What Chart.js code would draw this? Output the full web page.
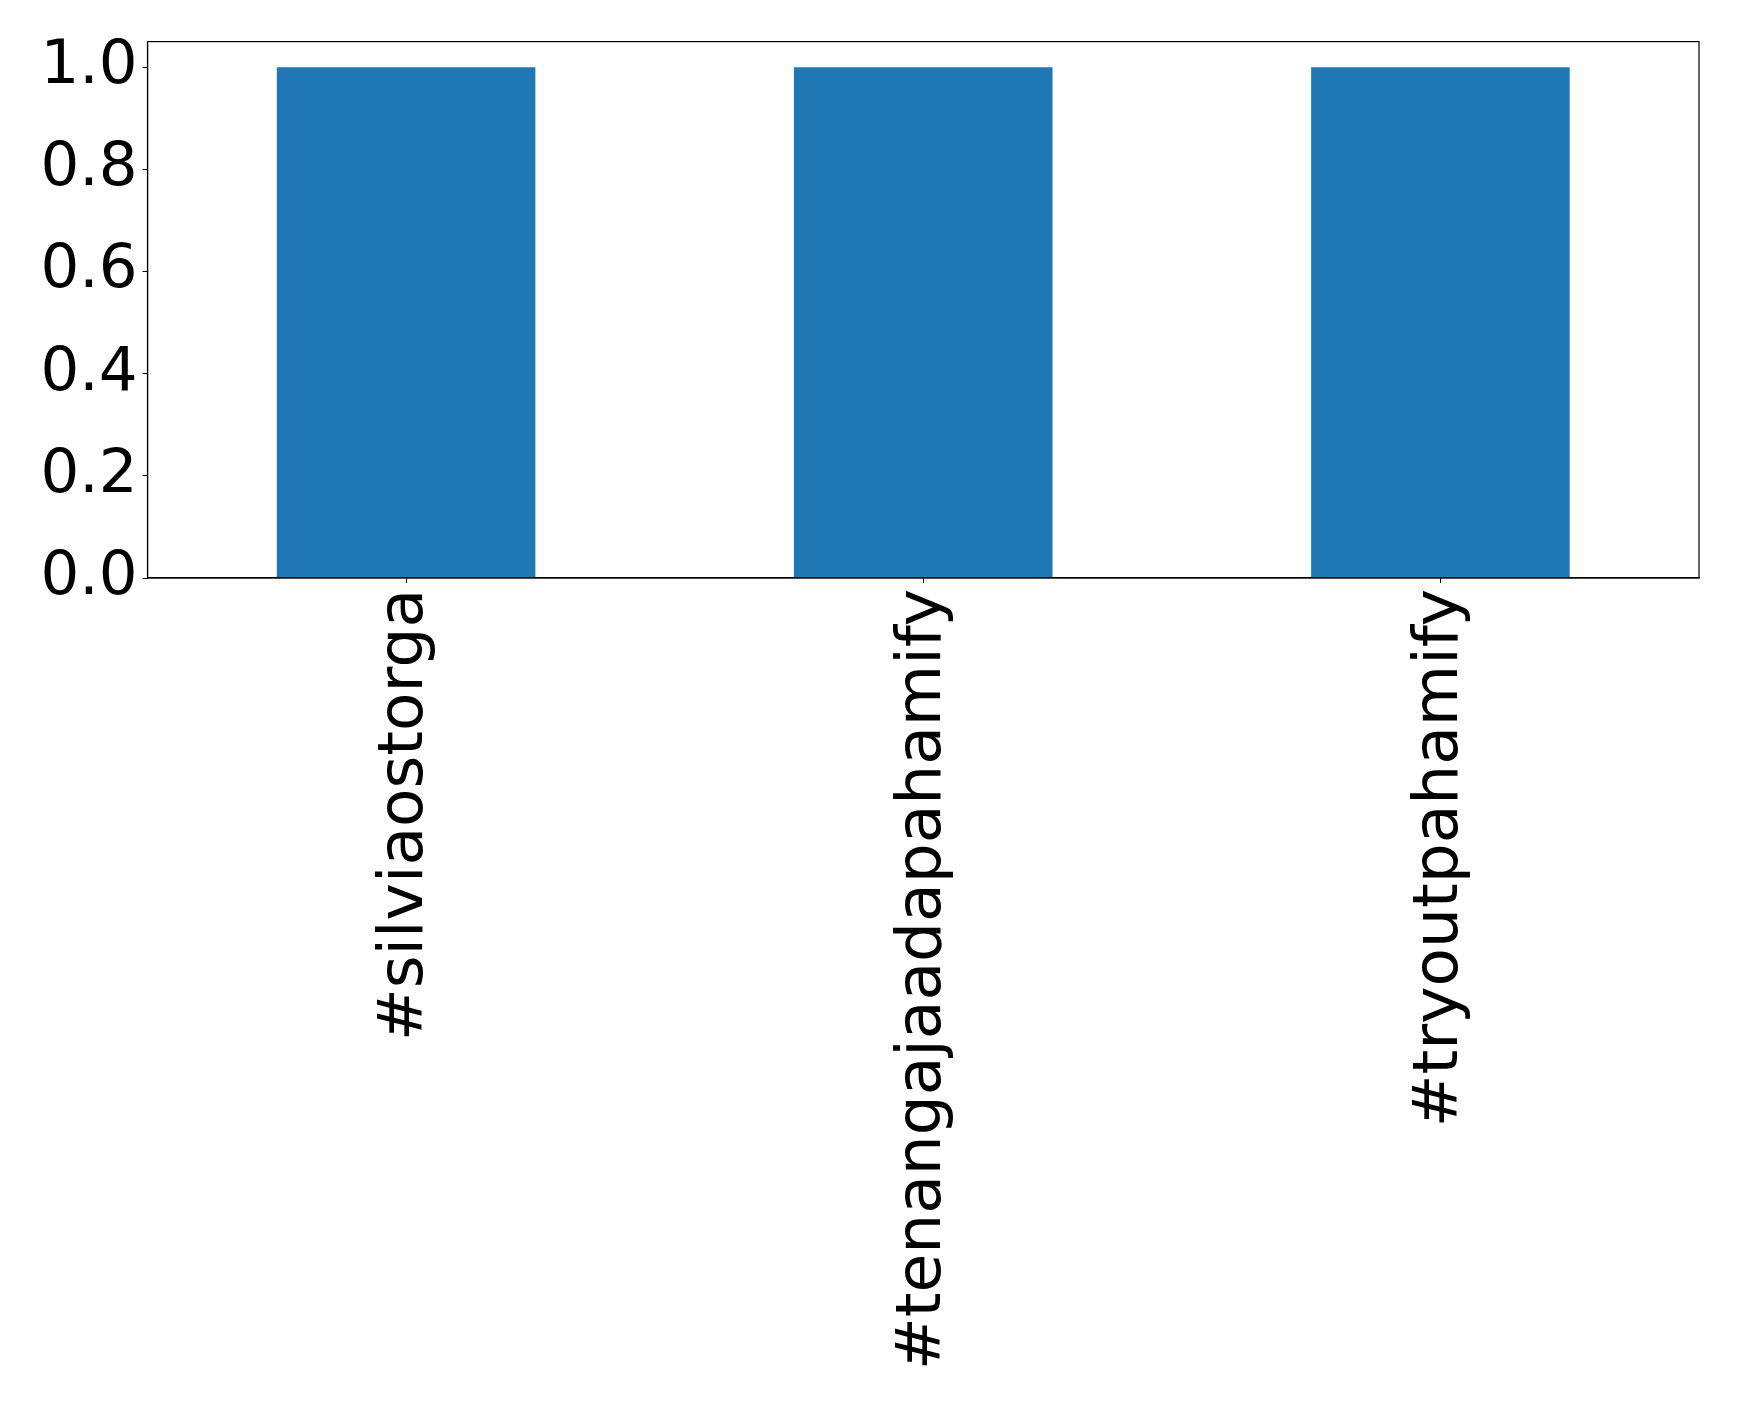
<!DOCTYPE html>
<html>
<head>
<meta charset="utf-8">
<script src="https://cdn.jsdelivr.net/npm/chart.js@4.4.1/dist/chart.umd.min.js"></script>
<style>
  html, body { margin: 0; padding: 0; background: #fff; }
  #wrap { width: 1739px; height: 1402px; }
</style>
</head>
<body>
<div id="wrap"><canvas id="barChart" width="1739" height="1402"></canvas></div>
<script>
const categories = ['#silviaostorga', '#tenangajaadapahamify', '#tryoutpahamify'];
const counts = [1, 1, 1];
const yTickValues = [0, 0.2, 0.4, 0.6, 0.8, 1.0];

// box around the plot area, like matplotlib spines
const frame = {
  id: 'frame',
  afterDatasetsDraw(chart) {
    const { ctx, chartArea: a } = chart;
    ctx.save();
    ctx.strokeStyle = '#000';
    ctx.lineWidth = 1.2;
    ctx.strokeRect(a.left, a.top, a.right - a.left, a.bottom - a.top);
    ctx.restore();
  }
};

const ctx = document.getElementById('barChart').getContext('2d');
new Chart(ctx, {
  type: 'bar',
  data: {
    labels: categories,
    datasets: [{
      data: counts,
      backgroundColor: '#1f77b4',
      categoryPercentage: 1.0,
      barPercentage: 0.5
    }]
  },
  options: {
    responsive: false,
    animation: false,
    layout: { padding: { top: 29, right: 40, left: 0, bottom: 0 } },
    plugins: { legend: { display: false }, tooltip: { enabled: false } },
    scales: {
      x: {
        grid: { offset: false, drawOnChartArea: false, drawTicks: true, tickLength: 5, color: '#000' },
        border: { color: '#000', width: 1.2 },
        ticks: {
          color: '#000',
          font: { family: 'DejaVu Sans', size: 63 },
          minRotation: 90,
          maxRotation: 90,
          padding: 6,
          autoSkip: false
        },
        afterFit(scale) { scale.height = 824; }
      },
      y: {
        min: 0,
        max: 1.05,
        afterBuildTicks(scale) { scale.ticks = yTickValues.map(v => ({ value: v })); },
        grid: { drawOnChartArea: false, drawTicks: true, tickLength: 5, color: '#000' },
        border: { color: '#000', width: 1.2 },
        ticks: {
          color: '#000',
          font: { family: 'DejaVu Sans', size: 61 },
          padding: 5,
          callback: v => v.toFixed(1)
        },
        afterFit(scale) { scale.width = 147.5; }
      }
    }
  },
  plugins: [frame]
});
</script>
</body>
</html>
